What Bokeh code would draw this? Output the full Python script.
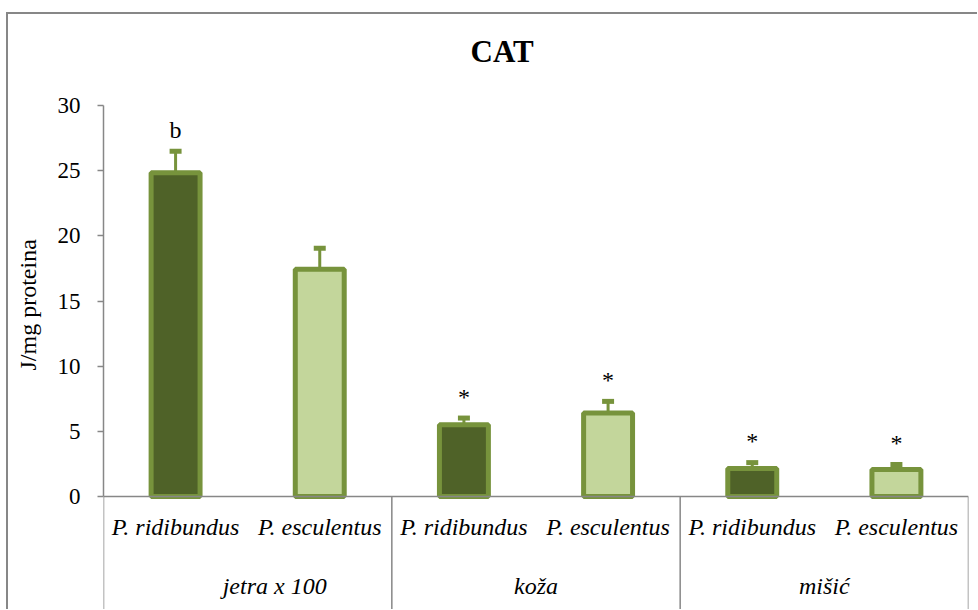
from bokeh.plotting import figure
from bokeh.models import Range1d, FixedTicker, ColumnDataSource, Title
from bokeh.core.properties import value
from bokeh.embed import file_html
from bokeh.resources import INLINE

# ---- data ----
groups = ["jetra x 100", "koža", "mišić"]
species = ["P. ridibundus", "P. esculentus"]
means = [24.85, 17.45, 5.5, 6.4, 2.15, 2.07]
errors = [1.65, 1.6, 0.52, 0.9, 0.45, 0.38]
marks = ["b", "", "*", "*", "*", "*"]
y_ticks = [0, 5, 10, 15, 20, 25, 30]

species_fill = ["#4F6228", "#C3D69B"]
edge = "#77933C"
grey = "#878787"
serif = "Liberation Serif"

# ---- layout geometry (px) ----
W, H = 977, 609
frame_left, frame_right = 102, 968
frame_top = 80
zero_px = 496            # pixel row of y = 0
px_per_unit_y = 13.03
group_label_shift = [27, 0, 0]   # px; first group label sits right of centre in the original

y_top = (zero_px - frame_top) / px_per_unit_y
y_bottom = -(H - zero_px) / px_per_unit_y

n = len(groups) * len(species)
px_per_unit_x = (frame_right - frame_left) / n

p = figure(width=W, height=H, output_backend="svg", toolbar_location=None,
           x_range=Range1d(0, n), y_range=Range1d(y_bottom, y_top),
           min_border_left=frame_left, min_border_right=W - frame_right,
           min_border_top=frame_top, min_border_bottom=0)
line_css = "linear-gradient(%s,%s)" % (grey, grey)
p.styles = {"background": line_css + " 6px 12px / 2px 600px no-repeat, "
                          + line_css + " 6px 12px / 975px 2px no-repeat, #ffffff"}
p.outline_line_color = None
p.grid.visible = False
p.xaxis.visible = False
p.background_fill_color = "white"
p.border_fill_color = None

# title
p.title.text = "CAT"
p.title.align = "left"
p.title.offset = 367
p.title.vertical_align = "bottom"
p.title.standoff = 23
p.title.text_font = serif
p.title.text_font_style = "bold"
p.title.text_font_size = "31px"
p.title.text_color = "black"

ya = p.yaxis[0]
ya.bounds = (y_ticks[0], y_ticks[-1])
ya.ticker = FixedTicker(ticks=y_ticks)
ya.major_tick_in = 0
ya.major_tick_out = 6
ya.minor_tick_line_color = None
ya.axis_line_color = grey
ya.axis_line_width = 1.5
ya.major_tick_line_color = grey
ya.major_tick_line_width = 1.5
ya.major_label_text_font = serif
ya.major_label_text_font_size = "23px"
ya.major_label_text_color = "black"
ya.major_label_standoff = 17

# y axis title, placed along the 0..30 span
p.add_layout(Title(text="J/mg  proteina", align="left", offset=239,
                   vertical_align="middle", standoff=26, text_font=serif,
                   text_font_style="normal", text_font_size="24px",
                   text_color="black"), "left")

xs = [i + 0.5 for i in range(n)]
tops = [m + e for m, e in zip(means, errors)]
fills = [species_fill[i % len(species)] for i in range(n)]
cap_half = 6 / px_per_unit_x

src = ColumnDataSource(dict(x=xs, m=means, t=tops, fill=fills,
                            cl=[x - cap_half for x in xs], cr=[x + cap_half for x in xs]))

# error bars
p.segment(x0="x", y0="m", x1="x", y1="t", source=src, line_color=edge, line_width=3)
p.segment(x0="cl", y0="t", x1="cr", y1="t", source=src, line_color=edge, line_width=5)
# bars
p.vbar(x="x", top="m", bottom=0, width=49 / px_per_unit_x, source=src,
       fill_color="fill", line_color=edge, line_width=5)

# significance marks
mark_off = 1.65
p.text(x=xs, y=[t + mark_off for t in tops], text=marks, text_font=value(serif),
       text_font_size="24px", text_align="center", text_baseline="alphabetic",
       text_color="black")

# category table lines
p.segment(x0=[0], y0=[0], x1=[n], y1=[0], line_color=grey, line_width=1.5)
bx = [len(species) * g for g in range(len(groups) + 1)]
p.segment(x0=bx, y0=[0] * len(bx), x1=bx, y1=[y_bottom] * len(bx), line_color=grey, line_width=1.5)

# sub-category labels
sub_labels = [species[i % len(species)] for i in range(n)]
p.text(x=xs, y=[-30 / px_per_unit_y] * n, text=sub_labels, text_font=value(serif),
       text_font_style="italic", text_font_size="24px", text_align="center",
       text_baseline="alphabetic", text_color="black")
# group labels
gx = [len(species) * g + len(species) / 2 for g in range(len(groups))]
gsrc = ColumnDataSource(dict(x=gx, y=[-89 / px_per_unit_y] * len(groups), t=groups,
                             dx=group_label_shift))
p.text(x="x", y="y", text="t", x_offset="dx", source=gsrc, text_font=value(serif),
       text_font_style="italic", text_font_size="24px", text_align="center",
       text_baseline="alphabetic", text_color="black")

open("out.html", "w").write(file_html(p, INLINE))
